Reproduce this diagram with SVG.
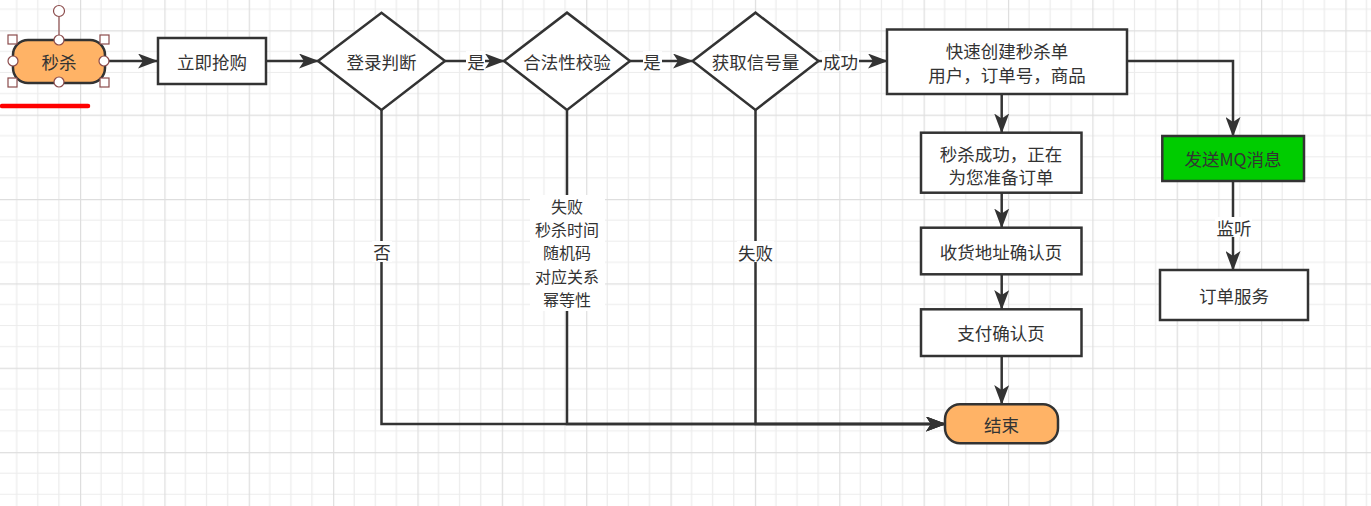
<svg xmlns="http://www.w3.org/2000/svg" width="1371" height="506" viewBox="0 0 1371 506">
<defs>
<pattern id="grid" patternUnits="userSpaceOnUse" x="-4.36" y="-54.08" width="84.36" height="84.36">
<path d="M21.09,0V84.36M42.18,0V84.36M63.27,0V84.36M0,21.09H84.36M0,42.18H84.36M0,63.27H84.36" stroke="#ececec" stroke-width="1.2" fill="none"/>
<path d="M0.5,0V84.36M0,0.5H84.36" stroke="#dedede" stroke-width="1.4" fill="none"/>
</pattern>
<marker id="arr" markerUnits="userSpaceOnUse" markerWidth="20" markerHeight="15" viewBox="0 0 20 15" refX="19" refY="7.5" orient="auto">
<path d="M0,0 L20,7.5 L0,15 L5,7.5 Z" fill="#333"/>
</marker>
<style>
.box{fill:#fff;stroke:#333;stroke-width:2.5}
.term{fill:#ffb366;stroke:#333;stroke-width:2.5}
.mq{fill:#00cc00;stroke:#333;stroke-width:2.5}
.t{font-family:"Noto Sans CJK SC","Noto Sans",sans-serif;font-size:17.5px;fill:#333;text-anchor:middle;dominant-baseline:central}
.s{font-size:16px}
.c{fill:none;stroke:#333;stroke-width:2.5}
.lb{fill:#fff}
.h{fill:#fff;stroke:#8b4b4b;stroke-width:1.2}
</style>
</defs>
<rect width="1371" height="506" fill="#fff"/>
<rect width="1371" height="506" fill="url(#grid)"/>

<g id="connectors">
<path class="c" d="M104,61H157" marker-end="url(#arr)"/>
<path class="c" d="M266,61H318" marker-end="url(#arr)"/>
<path class="c" d="M445,61H504" marker-end="url(#arr)"/>
<path class="c" d="M630,61H692" marker-end="url(#arr)"/>
<path class="c" d="M818,61H887" marker-end="url(#arr)"/>
<path class="c" d="M1001.7,94V132.5" marker-end="url(#arr)"/>
<path class="c" d="M1001.7,192.7V227.5" marker-end="url(#arr)"/>
<path class="c" d="M1001.7,274.3V309" marker-end="url(#arr)"/>
<path class="c" d="M1001.7,356V404" marker-end="url(#arr)"/>
<path class="c" d="M1127,61H1233V136" marker-end="url(#arr)"/>
<path class="c" d="M1233,181V270" marker-end="url(#arr)"/>
<path class="c" d="M381.5,110V424H945" marker-end="url(#arr)"/>
<path class="c" d="M567,110V424H945" marker-end="url(#arr)"/>
<path class="c" d="M755.5,110V424H945" marker-end="url(#arr)"/>
<rect class="lb" x="466" y="51" width="19" height="20"/>
<text class="t" x="476" y="61">是</text>
<rect class="lb" x="643" y="51" width="19" height="20"/>
<text class="t" x="652" y="61">是</text>
<rect class="lb" x="822" y="51" width="37" height="20"/>
<text class="t" x="840.5" y="61">成功</text>
<rect class="lb" x="1215" y="217" width="37" height="20"/>
<text class="t" x="1234" y="227">监听</text>
<rect class="lb" x="372" y="241" width="20" height="21"/>
<text class="t" x="382" y="251">否</text>
<rect class="lb" x="530" y="195" width="75" height="116"/>
<text class="t s" x="567" y="206">失败</text>
<text class="t s" x="567" y="229.2">秒杀时间</text>
<text class="t s" x="567" y="252.4">随机码</text>
<text class="t s" x="567" y="275.6">对应关系</text>
<text class="t s" x="567" y="298.8">幂等性</text>
<rect class="lb" x="737" y="241" width="37" height="21"/>
<text class="t" x="755.5" y="252">失败</text>
</g>

<g id="start">
<rect class="term" x="13" y="40" width="92" height="43" rx="15"/>
<text class="t" x="59" y="61">秒杀</text>
<path d="M59,17V40" stroke="#8b4b4b" stroke-width="1.2"/>
<circle class="h" cx="59" cy="11" r="5.5"/>
<rect class="h" x="8" y="35" width="9" height="9"/>
<rect class="h" x="100" y="35" width="9" height="9"/>
<rect class="h" x="8" y="78" width="9" height="9"/>
<rect class="h" x="100" y="78" width="9" height="9"/>
<circle class="h" cx="59" cy="40" r="5"/>
<circle class="h" cx="59" cy="82" r="5"/>
<circle class="h" cx="13" cy="61" r="5"/>
<circle class="h" cx="104" cy="61" r="5"/>
<path d="M2,106H88" stroke="#f00" stroke-width="4.5" stroke-linecap="round"/>
</g>

<g id="buy">
<rect class="box" x="158" y="38" width="108" height="46"/>
<text class="t" x="212" y="61">立即抢购</text>
</g>

<g id="login">
<path class="box" d="M318,61L381.5,12.7L445,61L381.5,110Z"/>
<text class="t" x="381.5" y="61">登录判断</text>
</g>

<g id="validate">
<path class="box" d="M504,61L567,12.7L630,61L567,110Z"/>
<text class="t" x="567" y="61">合法性校验</text>
</g>

<g id="semaphore">
<path class="box" d="M692.5,61L755.5,12.7L818.5,61L755.5,110Z"/>
<text class="t" x="755.5" y="61">获取信号量</text>
</g>

<g id="create">
<rect class="box" x="887" y="29.5" width="240" height="64.5"/>
<text class="t" x="1007" y="50">快速创建秒杀单</text>
<text class="t" x="1007" y="74">用户，订单号，商品</text>
</g>

<g id="success">
<rect class="box" x="921" y="132.7" width="160.5" height="60"/>
<text class="t" x="1001" y="153">秒杀成功，正在</text>
<text class="t" x="1001" y="176.5">为您准备订单</text>
</g>

<g id="address">
<rect class="box" x="921" y="227.7" width="160.5" height="46.6"/>
<text class="t" x="1001" y="251">收货地址确认页</text>
</g>

<g id="pay">
<rect class="box" x="921" y="309.3" width="160.5" height="46.7"/>
<text class="t" x="1001" y="332.5">支付确认页</text>
</g>

<g id="end">
<rect class="term" x="945" y="404.3" width="113" height="39" rx="15"/>
<text class="t" x="1001.5" y="424">结束</text>
</g>

<g id="mq">
<rect class="mq" x="1162.3" y="136" width="141.7" height="45"/>
<text class="t" x="1233" y="158.5">发送MQ消息</text>
</g>

<g id="order">
<rect class="box" x="1160" y="270" width="148" height="50"/>
<text class="t" x="1234" y="295">订单服务</text>
</g>
</svg>
